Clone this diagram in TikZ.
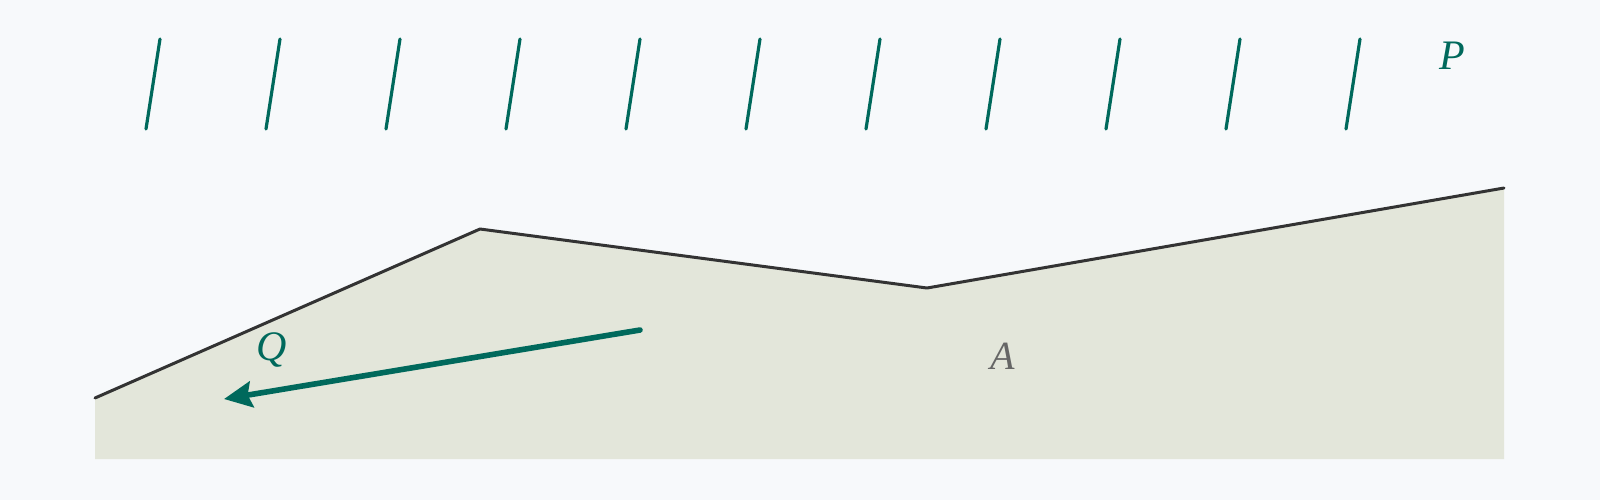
\documentclass[tikz,border=0pt]{standalone}
\usepackage{fontspec}
\newfontfamily\labfont{Liberation Serif}
\usetikzlibrary{arrows.meta}
\definecolor{bg}{HTML}{F7F9FB}
\definecolor{ground}{HTML}{E3E6DA}
\definecolor{edge}{HTML}{333333}
\definecolor{teal}{HTML}{00695C}
\definecolor{lab}{HTML}{666666}
\begin{document}
\begin{tikzpicture}[x=0.5pt,y=-0.5pt,
  hatch/.style={draw=teal,line width=1.6pt,line cap=round},
  surface/.style={draw=edge,line width=1.5pt,line cap=round,line join=round},
  force/.style={draw=teal,line width=2.8pt,line cap=round,-{Stealth[length=14pt,width=13pt,inset=2pt]}},
  tlabel/.style={text=teal,font=\labfont\itshape\fontsize{21}{23}\selectfont},
  glabel/.style={text=lab,font=\labfont\itshape\fontsize{20}{22}\selectfont}]
\fill[bg] (0,0) rectangle (1600,500);
\useasboundingbox (0,0) rectangle (1600,500);
% ground
\coordinate (g1) at (95,398);
\coordinate (g2) at (480,229);
\coordinate (g3) at (927,288);
\coordinate (g4) at (1504,188);
\coordinate (b1) at (95,459);
\coordinate (b4) at (1504,459);
\fill[ground] (b1) -- (g1) -- (g2) -- (g3) -- (g4) -- (b4) -- cycle;
\draw[surface] (g1) -- (g2) -- (g3) -- (g4);
% hatching
\foreach \i in {0,...,10}{
  \coordinate (ht\i) at (160+120*\i,39);
  \coordinate (hb\i) at (146+120*\i,129);
  \draw[hatch] (ht\i) -- (hb\i);
}
\node[tlabel] (P) at (1452,56) {P};
% force arrow
\coordinate (qs) at (640,330);
\coordinate (qe) at (224,399);
\draw[force] (qs) -- (qe);
\node[tlabel] (Q) at (272,350) {Q};
\node[glabel] (A) at (1003,356) {A};
\end{tikzpicture}
\end{document}
